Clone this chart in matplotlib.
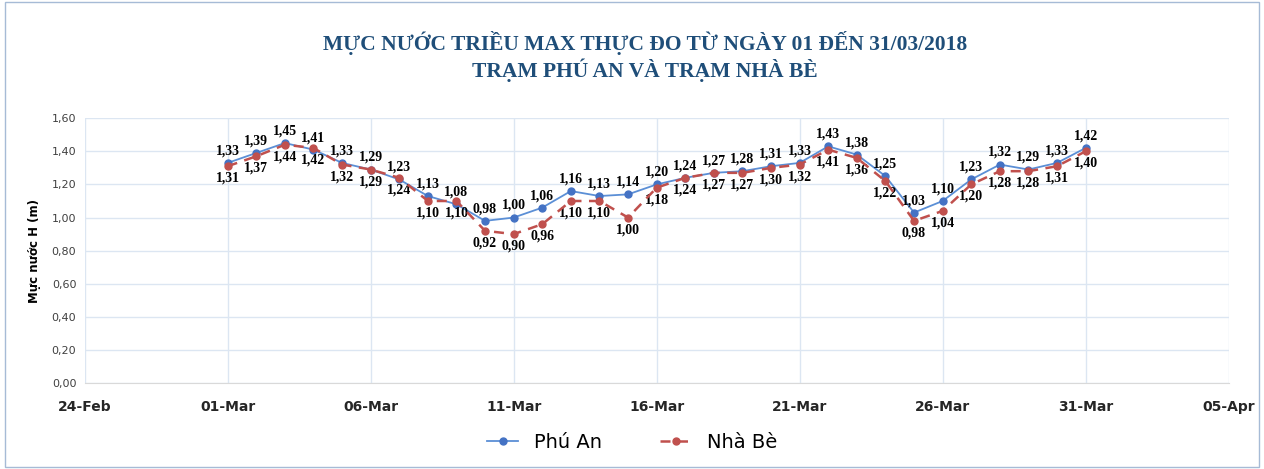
import matplotlib
matplotlib.use('Agg')
import matplotlib.pyplot as plt
import matplotlib.dates as mdates
import numpy as np
import pandas as pd

# Data
dates = pd.date_range('2018-03-01', '2018-03-31', freq='D')
phu_an = [1.33, 1.39, 1.45, 1.41, 1.33, 1.29, 1.23, 1.13, 1.08, 0.98,
          1.00, 1.06, 1.16, 1.13, 1.14, 1.20, 1.24, 1.27, 1.28, 1.31,
          1.33, 1.43, 1.38, 1.25, 1.03, 1.10, 1.23, 1.32, 1.29, 1.33, 1.42]
nha_be = [1.31, 1.37, 1.44, 1.42, 1.32, 1.29, 1.24, 1.10, 1.10, 0.92,
          0.90, 0.96, 1.10, 1.10, 1.00, 1.18, 1.24, 1.27, 1.27, 1.30,
          1.32, 1.41, 1.36, 1.22, 0.98, 1.04, 1.20, 1.28, 1.28, 1.31, 1.40]
y_ticks = [0.0, 0.2, 0.4, 0.6, 0.8, 1.0, 1.2, 1.4, 1.6]

title = 'MỰC NƯỚC TRIỀU MAX THỰC ĐO TỪ NGÀY 01 ĐẾN 31/03/2018\nTRẠM PHÚ AN VÀ TRẠM NHÀ BÈ'

blue = '#4472C4'
red = '#C0504D'
grid_col = '#DCE6F2'

fig = plt.figure(figsize=(12.64, 4.69), dpi=100)
ax = fig.add_axes([0.067, 0.183, 0.905, 0.565])

ax.plot(dates, phu_an, color='#5B8FD6', lw=1.3, marker='o', ms=5,
        mfc=blue, mec=blue, label='Phú An', zorder=3)
ax.plot(dates, nha_be, color=red, lw=1.8, ls=(0, (4, 3)), marker='o', ms=5,
        mfc=red, mec=red, label='Nhà Bè', zorder=4)

lab_font = dict(family='Liberation Serif', fontweight='bold', fontsize=10, color='black')
for d, a, b in zip(dates, phu_an, nha_be):
    ax.annotate(f'{a:.2f}'.replace('.', ','), (d, a), xytext=(0, 4),
                textcoords='offset points', ha='center', va='bottom', **lab_font)
    ax.annotate(f'{b:.2f}'.replace('.', ','), (d, b), xytext=(0, -4),
                textcoords='offset points', ha='center', va='top', **lab_font)

ax.set_xlim(pd.Timestamp('2018-02-24'), pd.Timestamp('2018-04-05'))
ax.set_xticks(pd.date_range('2018-02-24', '2018-04-05', freq='5D'))
ax.xaxis.set_major_formatter(mdates.DateFormatter('%d-%b'))
ax.set_ylim(0, 1.6)
ax.set_yticks(y_ticks)
ax.set_yticklabels([f'{v:.2f}'.replace('.', ',') for v in y_ticks])

ax.grid(True, color=grid_col, lw=1)
ax.set_axisbelow(True)
for s in ['top', 'right', 'left']:
    ax.spines[s].set_visible(False)
ax.spines['bottom'].set_color('#D9D9D9')
ax.tick_params(axis='y', length=0, labelsize=8, colors='#404040', pad=6)
ax.tick_params(axis='x', length=0, pad=12)
for t in ax.get_xticklabels():
    t.set_fontweight('bold')
    t.set_fontsize(10)
    t.set_color('#262626')

ax.set_ylabel('Mực nước H (m)', fontsize=8.5, fontweight='bold', labelpad=8)

fig.text(0.51, 0.88, title, ha='center', va='center', family='Liberation Serif',
         fontweight='bold', fontsize=15.5, color='#1F4E79', linespacing=1.2)

fig.legend(loc='lower center', bbox_to_anchor=(0.5, 0.0), ncol=2, frameon=False,
           fontsize=14, handlelength=1.6, columnspacing=3)

border = plt.Rectangle((0.004, 0.004), 0.992, 0.992, transform=fig.transFigure,
                       fill=False, ec='#A6BBD6', lw=1)
fig.patches.append(border)

fig.savefig('out.png', dpi=100)
